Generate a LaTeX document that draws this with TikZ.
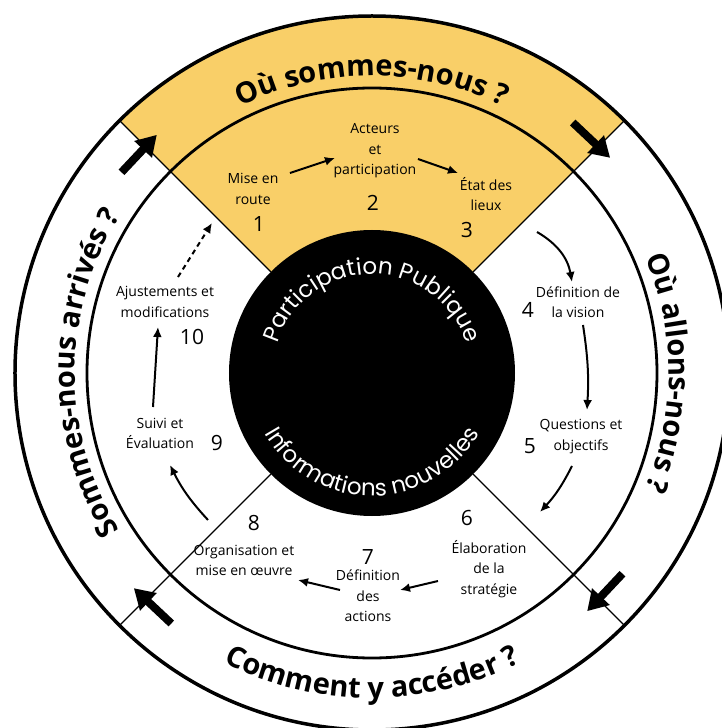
\documentclass[tikz,border=0pt]{standalone}
\usepackage{fontspec}
\setmainfont{Open Sans}
\newfontfamily\ringfont{Open Sans}
\newfontfamily\discfont{Poppins}
\usetikzlibrary{arrows.meta,decorations.text}
\definecolor{wedgeyellow}{RGB}{249,207,104}

\begin{document}
\begin{tikzpicture}[x=1pt,y=1pt,
  steptext/.style={align=center, inner sep=0pt, font=\fontsize{14}{20.5}\selectfont},
  stepnum/.style={inner sep=0pt, font=\fontsize{21}{21}\selectfont},
  flow/.style={line width=2pt, -{Latex[length=10pt,width=9pt]}},
  flowdash/.style={flow, dash pattern=on 5pt off 4pt},
  bigarrow/.style={line width=8pt, -{Triangle[length=20pt,width=23pt]}},
  ringline/.style={line width=1.3pt},
  ringtext/.style={decorate, decoration={text along path, text align=center,
      text={|\ringfont\bfseries\fontsize{29}{29}\selectfont|#1}}},
  disctext/.style={decorate, decoration={text along path, text align=center, text color=white,
      text={|\discfont\fontsize{23}{23}\selectfont|#1}}}
]
\useasboundingbox (-372,-355) rectangle (350,373);
\clip (-372,-355) rectangle (350,373);

% yellow quarter at the top (first stage)
\fill[wedgeyellow] (0,0) -- (45:357) arc[start angle=45, end angle=135, radius=357] -- cycle;

% rings
\node[circle, draw, line width=3.5pt, minimum size=714pt, inner sep=0pt] (rim) at (0,0) {};
\node[circle, draw, line width=2.8pt, minimum size=570pt, inner sep=0pt] (track) at (0,0) {};

% quarter separators
\foreach \a in {45,135,225,315}
  \draw[ringline] (\a:143) -- (\a:357);

% central disc
\node[circle, fill=black, minimum size=286pt, inner sep=0pt] (hub) at (0,0) {};
\path[disctext={Participation Publique}] (180:99) arc[start angle=180, end angle=0, radius=99];
\path[disctext={Informations nouvelles}] (180:123) arc[start angle=180, end angle=360, radius=123];

% questions in the outer band
\path[ringtext={Où sommes-nous ?}] (135:297) arc[start angle=135, end angle=45, radius=297];
\path[ringtext={Où allons-nous ?}] (45:297) arc[start angle=45, end angle=-45, radius=297];
\path[ringtext={Comment y accéder ?}] (225:325) arc[start angle=225, end angle=315, radius=325];
\path[ringtext={Sommes-nous arrivés ?}] (225:297) arc[start angle=225, end angle=135, radius=297];

% band arrows
\foreach \a/\n in {45/ne,135/nw,225/sw,315/se} {
  \coordinate (band\n t) at (\a+6.3:321);
  \coordinate (band\n h) at (\a-2.9:321);
  \draw[bigarrow] (band\n t) -- (band\n h);
}

% stages
\node[steptext] (s1) at (-119,184) {Mise en\\route};
\node[stepnum] (n1) at (-113,149) {1};
\node[steptext] (s2) at (3,222) {Acteurs\\et\\participation};
\node[stepnum] (n2) at (1,170) {2};
\node[steptext] (s3) at (114,179) {État des\\lieux};
\node[stepnum] (n3) at (95,143) {3};
\node[steptext] (s4) at (206,71) {Définition de\\la vision};
\node[stepnum] (n4) at (156,63) {4};
\node[steptext] (s5) at (209,-63.5) {Questions et\\objectifs};
\node[stepnum] (n5) at (158,-73) {5};
\node[stepnum] (n6) at (95,-145) {6};
\node[steptext] (s6) at (117,-196) {Élaboration\\de la\\stratégie};
\node[stepnum] (n7) at (-4,-184) {7};
\node[steptext] (s7) at (-4,-223) {Définition\\des\\actions};
\node[stepnum] (n8) at (-118,-150) {8};
\node[steptext] (s8) at (-128,-187.5) {Organisation et\\mise en œuvre};
\node[steptext] (s9) at (-212,-60.5) {Suivi et\\Évaluation};
\node[stepnum] (n9) at (-155,-70) {9};
\node[steptext] (s10) at (-207,71) {Ajustements et\\modifications};
\node[stepnum] (n10) at (-180,36) {10};

% arrow ends between stages
\coordinate (a12) at (-82,200);  \coordinate (b12) at (-37,215);
\coordinate (a23) at (46,214);   \coordinate (b23) at (86,200);
\coordinate (a34) at (165,141);  \coordinate (b34) at (200,91);
\coordinate (a45) at (211,48);   \coordinate (b45) at (215,-37);
\coordinate (a56) at (200,-93);  \coordinate (b56) at (168,-139);
\coordinate (a67) at (66,-208);  \coordinate (b67) at (28,-217);
\coordinate (a78) at (-32,-217); \coordinate (b78) at (-74,-207);
\coordinate (a89) at (-164,-147);\coordinate (b89) at (-202,-92);
\coordinate (a910) at (-219,-34);\coordinate (b910) at (-214,46);
\coordinate (a101) at (-194,96); \coordinate (b101) at (-160,150);

\draw[flow] (a12) -- (b12);
\draw[flow] (a23) -- (b23);
\draw[flow] (a34) to[bend left=25] (b34);
\draw[flow] (a45) to[bend left=6] (b45);
\draw[flow] (a56) to[bend left=8] (b56);
\draw[flow] (a67) -- (b67);
\draw[flow] (a78) -- (b78);
\draw[flow] (a89) to[bend left=8] (b89);
\draw[flow] (a910) -- (b910);
\draw[flowdash] (a101) -- (b101);
\end{tikzpicture}
\end{document}
